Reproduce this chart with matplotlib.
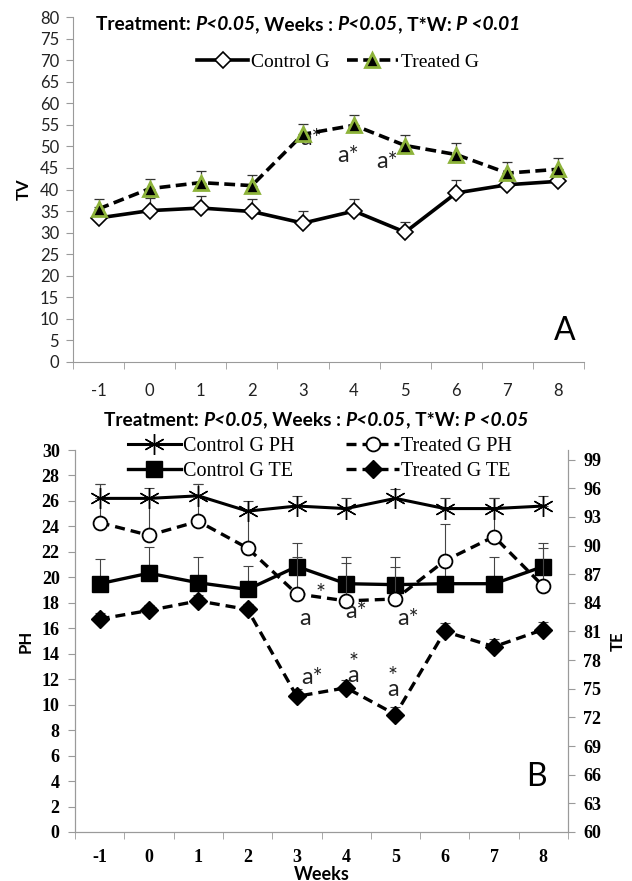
import matplotlib
matplotlib.use("Agg")
import matplotlib.pyplot as plt
import numpy as np

weeks = ["-1", "0", "1", "2", "3", "4", "5", "6", "7", "8"]

# Panel A (TV)
tv_control = [33.4, 35.1, 35.7, 34.9, 32.2, 35.0, 30.1, 39.2, 41.1, 41.9]
tv_control_err = [2.5, 2.9, 2.7, 2.9, 2.9, 2.8, 2.3, 2.9, 2.5, 2.5]
tv_treated = [35.5, 40.2, 41.6, 40.9, 52.8, 54.9, 50.2, 48.1, 43.8, 44.7]
tv_treated_err = [2.3, 2.2, 2.7, 2.5, 2.5, 2.4, 2.5, 2.7, 2.5, 2.6]

# Panel B (PH left axis, TE right axis)
ph_control = [26.2, 26.2, 26.4, 25.2, 25.6, 25.4, 26.2, 25.4, 25.4, 25.6]
ph_control_err = [1.1, 0.8, 0.9, 0.8, 0.8, 0.8, 0.7, 0.8, 0.8, 0.8]
ph_treated = [24.3, 23.3, 24.4, 22.3, 18.7, 18.15, 18.3, 21.3, 23.2, 19.3]
ph_treated_err = [3.0, 3.0, 2.9, 2.9, 2.9, 3.0, 2.5, 2.9, 3.0, 3.0]
te_control = [86.0, 87.1, 86.1, 85.4, 87.8, 86.0, 85.9, 86.0, 86.0, 87.8]
te_control_err = [2.6, 2.7, 2.7, 2.5, 2.5, 2.8, 2.9, 2.8, 2.8, 2.5]
te_treated = [82.3, 83.2, 84.2, 83.3, 74.2, 75.1, 72.3, 81.0, 79.4, 81.2]
te_treated_err = [0.6, 0.6, 0.6, 0.6, 0.8, 0.8, 0.75, 0.9, 0.8, 0.8]

W, H = 632, 881
fig = plt.figure(figsize=(W / 100, H / 100), dpi=100)

SANS = ["Lato", "DejaVu Sans"]
SERIF = ["Liberation Serif", "DejaVu Serif"]
GRAY = "#9a9a9a"
GREEN = "#8db33a"

def fx(px):
    return px / W

def fy(py):
    return 1 - py / H

x = np.arange(len(weeks))

def style_cat_axis(ax, pad, fontdict):
    ax.set_xlim(-0.5, len(weeks) - 0.5)
    ax.set_xticks(x)
    ax.set_xticklabels(weeks, **fontdict)
    ax.set_xticks(np.arange(-0.5, len(weeks), 1.0), minor=True)
    ax.tick_params(axis="x", which="major", length=0, pad=pad)
    ax.tick_params(axis="x", which="minor", length=5, color=GRAY, direction="out")

# ---------------- Panel A ----------------
axA = fig.add_axes([fx(73), fy(362), fx(584) - fx(73), fy(17) - fy(362)])
axA.set_ylim(0, 80)
axA.set_yticks(np.arange(0, 81, 5))
axA.set_yticklabels([str(v) for v in range(0, 81, 5)], family=SANS, fontsize=12, color="#222222")
axA.tick_params(axis="y", length=5, color=GRAY, pad=5)
style_cat_axis(axA, 15, dict(family=SANS, fontsize=12, color="#222222"))
for s in ["top", "right"]:
    axA.spines[s].set_visible(False)
for s in ["left", "bottom"]:
    axA.spines[s].set_color(GRAY)

axA.errorbar(x, tv_control, yerr=[np.zeros(len(x)), tv_control_err], fmt="none",
             ecolor="#333333", elinewidth=0.9, capsize=3.5, capthick=0.9, zorder=2)
axA.errorbar(x, tv_treated, yerr=[np.zeros(len(x)), tv_treated_err], fmt="none",
             ecolor="#333333", elinewidth=0.9, capsize=3.5, capthick=0.9, zorder=2)
lc, = axA.plot(x, tv_control, "-", color="black", lw=2.6, marker="D", ms=8,
               mfc="white", mec="black", mew=1.2, zorder=3, label="Control G")
lt, = axA.plot(x, tv_treated, "--", color="black", lw=2.6, dashes=(3, 1.5), marker="^", ms=10,
               mfc="black", mec=GREEN, mew=2.0, zorder=4, label="Treated G")
axA.set_ylabel("TV", family=SANS, fontsize=12, fontweight="bold", labelpad=6)

for xi, yv, t in [(4.16, 51.9, "a*"), (4.88, 48.0, "a*"), (5.65, 46.4, "a*")]:
    axA.text(xi, yv, t, family=SANS, fontsize=17, ha="center", va="center", color="#222222")

fig.text(fx(565), fy(331), "A", family=SANS, fontsize=23, ha="center", va="center")

axA.legend(handles=[lc, lt], loc="center", bbox_to_anchor=(fx(338), fy(62)),
           bbox_transform=fig.transFigure, ncol=2, frameon=False,
           prop=dict(family=SERIF, size=14), handlelength=2.6, handletextpad=0.15,
           columnspacing=0.9, borderaxespad=0)

def place_title(cx, py, last, target_w):
    parts = [("Treatment: ", "normal"), ("P<0.05", "italic"), (", Weeks : ", "normal"),
             ("P<0.05", "italic"), (", T*W: ", "normal"), ("P <" + last, "italic")]
    renderer = fig.canvas.get_renderer()
    base = 12.0
    texts = [fig.text(0, 0, s, family=SANS, fontsize=base, fontweight="bold", style=st)
             for s, st in parts]
    total = sum(t.get_window_extent(renderer=renderer).width for t in texts)
    size = base * target_w / total
    for t in texts:
        t.set_fontsize(size)
    widths = [t.get_window_extent(renderer=renderer).width for t in texts]
    start = cx - sum(widths) / 2
    for t, w in zip(texts, widths):
        t.set_position((fx(start), fy(py)))
        t.set_va("center")
        start += w

fig.canvas.draw()
place_title(308, 25, "0.01", 423)
place_title(316, 420, "0.05", 423)

# ---------------- Panel B ----------------
axB = fig.add_axes([fx(75), fy(832), fx(568) - fx(75), fy(450) - fy(832)])
axB.set_ylim(0, 30)
axB.set_yticks(np.arange(0, 31, 2))
axB.set_yticklabels([str(v) for v in range(0, 31, 2)], family=SERIF, fontsize=13, fontweight="bold")
axB.tick_params(axis="y", length=5, color=GRAY, pad=6)
style_cat_axis(axB, 12, dict(family=SERIF, fontsize=13, fontweight="bold"))
axB.spines["top"].set_visible(False)
for s in ["left", "bottom", "right"]:
    axB.spines[s].set_color(GRAY)

axR = axB.twinx()
axR.set_ylim(60, 100)
axR.set_yticks(np.arange(60, 100, 3))
axR.set_yticklabels([str(v) for v in range(60, 100, 3)], family=SERIF, fontsize=13, fontweight="bold")
axR.tick_params(axis="y", length=5, color=GRAY, pad=6)
axR.spines["top"].set_visible(False)
for s in ["left", "bottom", "right"]:
    axR.spines[s].set_color(GRAY)

z0 = np.zeros(len(x))
axR.errorbar(x, te_control, yerr=[z0, te_control_err], fmt="none", ecolor="#444444",
             elinewidth=0.8, capsize=3.5, capthick=0.8, zorder=1)
axR.errorbar(x, te_treated, yerr=[z0, te_treated_err], fmt="none", ecolor="#444444",
             elinewidth=0.8, capsize=3.5, capthick=0.8, zorder=1)
axB.errorbar(x, ph_control, yerr=[z0, ph_control_err], fmt="none", ecolor="#444444",
             elinewidth=0.8, capsize=3.5, capthick=0.8, zorder=1)
axB.errorbar(x, ph_treated, yerr=[z0, ph_treated_err], fmt="none", ecolor="#444444",
             elinewidth=0.8, capsize=3.5, capthick=0.8, zorder=1)

h1, = axR.plot(x, te_control, "-", color="black", lw=2.4, marker="s", ms=11,
               mfc="black", mec="black", zorder=3, label="Control G TE")
h2, = axR.plot(x, te_treated, "--", color="black", lw=2.4, dashes=(3, 1.8), marker="D", ms=9,
               mfc="black", mec="black", zorder=3, label="Treated G TE")
axB.set_zorder(axR.get_zorder() + 1)
axB.patch.set_visible(False)
p1, = axB.plot(x, ph_control, "-", color="black", lw=2.2, marker=(6, 2, 0), ms=15,
               mfc="black", mec="black", mew=1.0, zorder=3, label="Control G PH")
p2, = axB.plot(x, ph_treated, "--", color="black", lw=2.4, dashes=(3, 1.8), marker="o", ms=10,
               mfc="white", mec="black", mew=1.3, zorder=3, label="Treated G PH")

axB.set_ylabel("PH", family=SANS, fontsize=12, fontweight="bold", labelpad=6)
axR.set_ylabel("TE", family=SANS, fontsize=12, fontweight="bold", labelpad=6)
axB.set_xlabel("Weeks", family=SANS, fontsize=13, fontweight="bold", labelpad=0)

# annotations (x in category index, y in PH data coords)
ann = [(4.16, 16.8, "a"), (4.48, 18.7, "*"), (5.21, 17.3, "a*"), (6.26, 16.8, "a*"),
       (4.3, 12.1, "a*"), (5.14, 12.8, "*\na"), (5.95, 11.7, "*\na")]
for xi, yv, t in ann:
    axB.text(xi, yv, t, family=SANS, fontsize=17, ha="center", va="center",
             color="#222222", linespacing=0.55)

fig.text(fx(536), fy(777), "B", family=SANS, fontsize=23, ha="center", va="center")

axB.legend(handles=[p1, h1, p2, h2], loc="center", bbox_to_anchor=(fx(320), fy(459)),
           bbox_transform=fig.transFigure, ncol=2, frameon=False,
           prop=dict(family=SERIF, size=14.5), handlelength=2.6, handletextpad=0.1,
           columnspacing=2.6, labelspacing=0.3, borderaxespad=0)

fig.savefig("out.png", dpi=100)
